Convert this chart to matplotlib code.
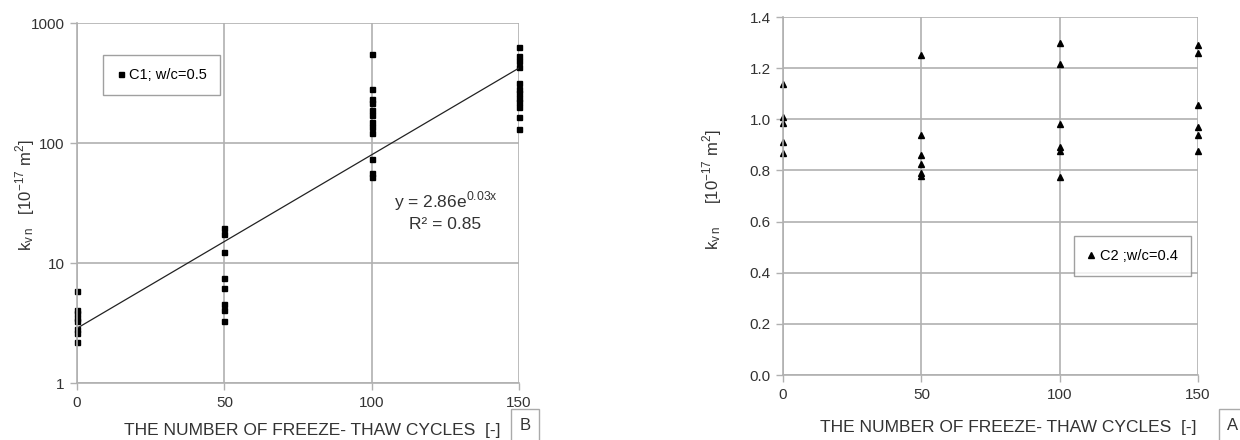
import numpy as np
import matplotlib
matplotlib.use("Agg")
import matplotlib.pyplot as plt
from matplotlib.ticker import FixedLocator, NullLocator, FuncFormatter

plt.rcParams['font.family'] = ['Liberation Sans', 'DejaVu Sans']

# Panel B: C1, w/c = 0.5 (log scale)
c1_cycles = [0] * 8 + [50] * 8 + [100] * 12 + [150] * 12
c1_kvn = [5.9, 4.1, 3.8, 3.5, 3.3, 2.8, 2.6, 2.2,
          19.5, 17.5, 12.3, 7.5, 6.2, 4.6, 4.1, 3.3,
          550, 285, 235, 215, 190, 170, 150, 135, 122, 74, 56, 52,
          630, 530, 480, 430, 315, 285, 260, 237, 220, 200, 165, 131]
trend_a = 2.86
trend_b = 0.0333

# Panel A: C2, w/c = 0.4
c2_cycles = [0] * 5 + [50] * 6 + [100] * 6 + [150] * 6
c2_kvn = [1.14, 1.01, 0.985, 0.91, 0.87,
          1.25, 0.94, 0.86, 0.825, 0.79, 0.78,
          1.30, 1.215, 0.98, 0.89, 0.875, 0.775,
          1.29, 1.26, 1.055, 0.97, 0.94, 0.875]

x_ticks = [0, 50, 100, 150]
grid_col = '#b0b0b0'
text_col = '#333333'

fig = plt.figure(figsize=(12.4, 4.4), dpi=100)
axB = fig.add_axes([0.0621, 0.1295, 0.3565, 0.818])
axA = fig.add_axes([0.6315, 0.1477, 0.3347, 0.8136])


def style(ax):
    for s in ['top', 'right']:
        ax.spines[s].set_visible(False)
    for s in ['left', 'bottom']:
        ax.spines[s].set_color(grid_col)
        ax.spines[s].set_linewidth(1.2)
    ax.grid(True, color=grid_col, linewidth=1.2)
    ax.set_axisbelow(True)
    ax.tick_params(direction='out', length=5, color=grid_col, width=1.0,
                   labelsize=11, labelcolor=text_col, pad=4)
    ax.set_xlim(0, 150)
    ax.xaxis.set_major_locator(FixedLocator(x_ticks))


# ---- left panel (B)
axB.set_yscale('log')
axB.set_ylim(1, 1000)
style(axB)
axB.yaxis.set_major_locator(FixedLocator([1, 10, 100, 1000]))
axB.yaxis.set_minor_locator(NullLocator())
axB.yaxis.set_major_formatter(FuncFormatter(lambda v, p: f"{v:g}"))
axB.plot(c1_cycles, c1_kvn, 's', color='black', ms=3.6, clip_on=False,
         label='C1; w/c=0.5')
xs = np.linspace(0, 150, 100)
axB.plot(xs, trend_a * np.exp(trend_b * xs), color='#222222', lw=0.9)
axB.text(125, 33, r'y = 2.86e$^{\mathregular{0.03x}}$', ha='center',
         va='center', fontsize=12.5, color=text_col)
axB.text(125, 21, 'R² = 0.85', ha='center', va='center',
         fontsize=12.5, color=text_col)
legB = axB.legend(loc='upper left', bbox_to_anchor=(0.059, 0.911),
                  fontsize=10.5, handlelength=0.6, handletextpad=0.3,
                  markerscale=1.0, fancybox=False, borderpad=0.9,
                  borderaxespad=0)
legB.get_frame().set_edgecolor('#888888')
legB.get_frame().set_linewidth(1.0)

# ---- right panel (A)
axA.set_ylim(0, 1.4)
style(axA)
axA.yaxis.set_major_locator(FixedLocator(np.arange(0, 1.41, 0.2)))
axA.yaxis.set_major_formatter(FuncFormatter(lambda v, p: f"{v:.1f}"))
axA.plot(c2_cycles, c2_kvn, '^', color='black', ms=4.5, clip_on=False,
         label='C2 ;w/c=0.4')
legA = axA.legend(loc='upper left', bbox_to_anchor=(0.701, 0.388),
                  fontsize=10.5, handlelength=0.6, handletextpad=0.3,
                  fancybox=False, borderpad=0.9, borderaxespad=0)
legA.get_frame().set_edgecolor('#888888')
legA.get_frame().set_linewidth(1.0)

# axis titles
ylab = r'$\mathregular{k_{v\,n}}$   [10$^{\mathregular{-17}}$ m$^{\mathregular{2}}$]'
fig.text(25 / 1240, 1 - 195 / 440, ylab, rotation=90, ha='center',
         va='center', fontsize=12, color=text_col)
fig.text(712 / 1240, 1 - 190 / 440, ylab.replace('   ', '     '),
         rotation=90, ha='center', va='center', fontsize=12, color=text_col)
xlab = 'THE NUMBER OF FREEZE- THAW CYCLES  [-]'
fig.text(312 / 1240, 1 - 430 / 440, xlab, ha='center', va='center',
         fontsize=12.5, color=text_col)
fig.text(1008 / 1240, 1 - 427 / 440, xlab, ha='center', va='center',
         fontsize=12.5, color=text_col)

# panel letters
for px, letter in [(525, 'B'), (1233, 'A')]:
    fig.text(px / 1240, 1 - 425 / 440, letter, ha='center', va='center',
             fontsize=12, color=text_col,
             bbox=dict(boxstyle='square,pad=0.5', fc='white',
                       ec='#aaaaaa', lw=1.0))

fig.savefig('out.png', dpi=100)
